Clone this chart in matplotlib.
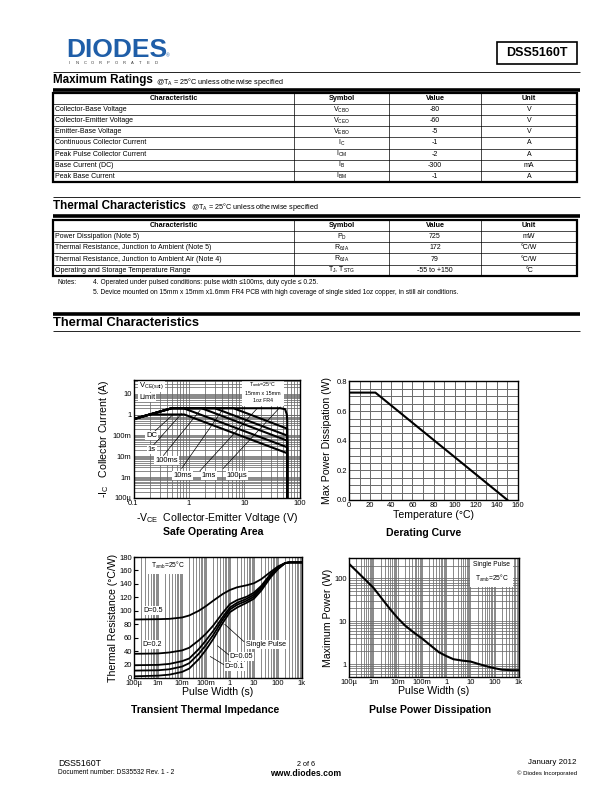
import numpy as np
import matplotlib
matplotlib.use('Agg')
import matplotlib.pyplot as plt
from matplotlib.patches import Rectangle
from matplotlib.ticker import LogLocator, NullFormatter, MultipleLocator

plt.rcParams['font.family'] = ['Liberation Sans', 'DejaVu Sans']
plt.rcParams['mathtext.default'] = 'regular'

W, H = 612, 792

# ---------------- data ----------------
part_number = "DSS5160T"
table_header = ["Characteristic", "Symbol", "Value", "Unit"]

max_char = ["Collector-Base Voltage", "Collector-Emitter Voltage", "Emitter-Base Voltage",
            "Continuous Collector Current", "Peak Pulse Collector Current",
            "Base Current (DC)", "Peak Base Current"]
max_sym = ["V$_{CBO}$", "V$_{CEO}$", "V$_{EBO}$", "I$_{C}$", "I$_{CM}$", "I$_{B}$", "I$_{BM}$"]
max_val = ["-80", "-60", "-5", "-1", "-2", "-300", "-1"]
max_unit = ["V", "V", "V", "A", "A", "mA", "A"]

th_char = ["Power Dissipation (Note 5)", "Thermal Resistance, Junction to Ambient (Note 5)",
           "Thermal Resistance, Junction to Ambient Air (Note 4)",
           "Operating and Storage Temperature Range"]
th_sym = ["P$_{D}$", "R$_{\\theta JA}$", "R$_{\\theta JA}$", "T$_{J}$, T$_{STG}$"]
th_val = ["725", "172", "79", "-55 to +150"]
th_unit = ["mW", "°C/W", "°C/W", "°C"]

notes = ["4. Operated under pulsed conditions: pulse width \u2264100ms, duty cycle \u2264 0.25.",
         "5. Device mounted on 15mm x 15mm x1.6mm FR4 PCB with high coverage of single sided 1oz copper, in still air conditions."]

# Safe operating area curves (-VCE in V, -IC in A)
soa_dc_v = [0.1, 0.195, 0.83, 60, 60]
soa_dc_i = [0.6, 1.0, 1.0, 0.014, 1e-4]
soa_1s_v = [0.1, 0.49, 0.8, 60, 60]
soa_1s_i = [0.6, 2.0, 2.0, 0.027, 1e-4]
soa_100ms_v = [0.1, 0.49, 1.7, 60, 60]
soa_100ms_i = [0.6, 2.0, 2.0, 0.056, 1e-4]
soa_10ms_v = [0.1, 0.49, 2.95, 60, 60]
soa_10ms_i = [0.6, 2.0, 2.0, 0.098, 1e-4]
soa_1ms_v = [0.1, 0.49, 6.4, 60, 60]
soa_1ms_i = [0.6, 2.0, 2.0, 0.21, 1e-4]
soa_100us_v = [0.1, 0.49, 45, 55, 59, 60, 60]
soa_100us_i = [0.6, 2.0, 2.0, 1.8, 1.0, 0.5, 1e-4]
soa_yticks = [1e-4, 1e-3, 1e-2, 1e-1, 1, 10]
soa_ylabels = ["100\u00b5", "1m", "10m", "100m", "1", "10"]
soa_xticks = [0.1, 1, 10, 100]
soa_xlabels = ["0.1", "1", "10", "100"]

# Derating curve
der_temp = [0, 25, 150]
der_power = [0.725, 0.725, 0.0]

# Transient thermal impedance (deg C/W vs pulse width s)
tt_t = [1e-4, 1e-3, 3e-3, 1e-2, 2e-2, 5e-2, 0.1, 0.2, 0.5, 1, 2, 5, 10, 20, 50, 100, 200, 300, 1000]
tt_d05 = [87, 87.5, 88, 90, 93, 100, 107, 115, 125, 131, 135, 138, 141, 147, 158, 166, 171, 172, 172]
tt_d02 = [36, 36.5, 38, 41, 45, 56, 66, 78, 97, 110, 116, 121, 127, 137, 155, 165, 171, 172, 172]
tt_d01 = [19, 19.5, 21, 25, 29, 43, 56, 70, 91, 105, 112, 118, 124, 135, 153, 164, 171, 172, 172]
tt_d005 = [11, 11.5, 13, 17, 22, 36, 49, 64, 87, 102, 109, 115, 121, 133, 152, 163, 171, 172, 172]
tt_single = [2.5, 3.5, 5, 9, 14, 28, 42, 58, 82, 98, 105, 112, 118, 130, 150, 162, 171, 172, 172]
t_ticks = [1e-4, 1e-3, 1e-2, 1e-1, 1, 10, 100, 1000]
t_labels = ["100\u00b5", "1m", "10m", "100m", "1", "10", "100", "1k"]

# Pulse power dissipation (W vs pulse width s)
pp_t = [1e-4, 2e-4, 5e-4, 1e-3, 2e-3, 5e-3, 1e-2, 2e-2, 5e-2, 0.1, 0.2, 0.5, 1, 2, 5, 10,
        20, 50, 100, 200, 500, 1000]
pp_p = [220, 150, 90, 61, 37, 19, 12, 8.0, 5.3, 4.0, 2.9, 1.9, 1.55, 1.3, 1.2, 1.15,
        1.02, 0.88, 0.8, 0.74, 0.72, 0.72]

# ---------------- figure ----------------
fig = plt.figure(figsize=(W / 100, H / 100), dpi=100)
pg = fig.add_axes([0, 0, 1, 1])
pg.set_xlim(0, W)
pg.set_ylim(H, 0)
pg.axis('off')


def rect(x0, y0, x1, y1):
    return [x0 / W, 1 - y1 / H, (x1 - x0) / W, (y1 - y0) / H]


def hline(y, x0=53, x1=580, lw=0.6):
    pg.plot([x0, x1], [y, y], color='black', lw=lw, solid_capstyle='butt')


# header logo
pg.text(66, 57, "DIODES", fontsize=19, fontweight='bold', color='#1f5ea8',
        ha='left', va='baseline')
pg.plot([66, 170], [47.5, 47.5], color='white', lw=1.1)
for k, ch in enumerate("INCORPORATED"):
    pg.text(69 + k * 7.9, 62.5, ch, fontsize=3.0, color='#333333', ha='center', va='center')
pg.text(166, 56, "\u00ae", fontsize=3.5, color='#1f5ea8', ha='left', va='center')
pg.add_patch(Rectangle((497, 42), 80, 22, fill=False, lw=1.2, ec='black'))
pg.text(537, 53, part_number, fontsize=9, fontweight='bold', ha='center', va='center')

# section: maximum ratings
hline(72, lw=0.6)
pg.text(53, 80.5, "Maximum Ratings", fontsize=8.4, fontweight='bold', ha='left', va='center')
pg.text(156, 81.5, "@T$_{A}$ = 25°C unless otherwise specified", fontsize=5.2, ha='left', va='center')
hline(89.5, lw=2.6)

cols = [53, 294, 389, 481, 577]


def draw_table(top, rh, chars, syms, vals, units):
    n = len(chars) + 1
    bottom = top + n * rh
    for i in range(1, n):
        pg.plot([cols[0], cols[-1]], [top + i * rh] * 2, color='black', lw=0.5)
    for x in cols[1:-1]:
        pg.plot([x, x], [top, bottom], color='black', lw=0.5)
    pg.add_patch(Rectangle((cols[0], top), cols[-1] - cols[0], n * rh, fill=False, lw=1.6, ec='black'))
    for j, h in enumerate(table_header):
        pg.text((cols[j] + cols[j + 1]) / 2, top + rh / 2, h, fontsize=5.2, fontweight='bold',
                ha='center', va='center')
    for i in range(len(chars)):
        yc = top + (i + 1.5) * rh
        pg.text(cols[0] + 2, yc, chars[i], fontsize=5.0, ha='left', va='center')
        pg.text((cols[1] + cols[2]) / 2, yc, syms[i], fontsize=5.0, ha='center', va='center')
        pg.text((cols[2] + cols[3]) / 2, yc, vals[i], fontsize=5.0, ha='center', va='center')
        pg.text((cols[3] + cols[4]) / 2, yc, units[i], fontsize=5.0, ha='center', va='center')


draw_table(93, 11.1, max_char, max_sym, max_val, max_unit)

# section: thermal characteristics (table)
hline(197, lw=0.6)
pg.text(53, 206, "Thermal Characteristics", fontsize=8.4, fontweight='bold', ha='left', va='center')
pg.text(191, 207, "@T$_{A}$ = 25°C unless otherwise specified", fontsize=5.2, ha='left', va='center')
hline(215.5, lw=2.6)
draw_table(219.5, 11.3, th_char, th_sym, th_val, th_unit)

pg.text(57, 283, "Notes:", fontsize=4.8, ha='left', va='center')
pg.text(93, 283, notes[0], fontsize=4.8, ha='left', va='center')
pg.text(93, 292, notes[1], fontsize=4.8, ha='left', va='center')

hline(313.5, lw=2.6)
pg.text(53, 322.5, "Thermal Characteristics", fontsize=9.3, fontweight='bold', ha='left', va='center')
hline(331, lw=0.6)

# footer
pg.text(58, 763, part_number, fontsize=6.3, ha='left', va='center')
pg.text(58, 773, "Document number: DS35532 Rev. 1 - 2", fontsize=4.8, ha='left', va='center')
pg.text(306, 764, "2 of 6", fontsize=5.2, ha='center', va='center')
pg.text(306, 773, "www.diodes.com", fontsize=6.2, fontweight='bold', ha='center', va='center')
pg.text(577, 763, "January 2012", fontsize=5.8, ha='right', va='center')
pg.text(577, 773, "\u00a9 Diodes Incorporated", fontsize=4.3, ha='right', va='center')

# chart titles
pg.text(213, 532, "Safe Operating Area", fontsize=7.6, fontweight='bold', ha='center', va='center')
pg.text(424, 533, "Derating Curve", fontsize=7.6, fontweight='bold', ha='center', va='center')
pg.text(205, 710, "Transient Thermal Impedance", fontsize=7.6, fontweight='bold', ha='center', va='center')
pg.text(430, 710, "Pulse Power Dissipation", fontsize=7.6, fontweight='bold', ha='center', va='center')

GRID = '#6a6a6a'
TICKFS = 5.5
LABFS = 7.6


def style(ax):
    for s in ax.spines.values():
        s.set_linewidth(1.0)
        s.set_zorder(6)
    ax.tick_params(which='both', length=0, pad=1.5, labelsize=TICKFS)


# ---- Safe operating area ----
ax1 = fig.add_axes(rect(133.5, 380, 299.5, 498))
ax1.set_xscale('log')
ax1.set_yscale('log')
ax1.set_xlim(0.1, 100)
ax1.set_ylim(1e-4, 45)
ax1.set_xticks(soa_xticks, soa_xlabels)
ax1.set_yticks(soa_yticks, soa_ylabels)
ax1.xaxis.set_minor_locator(LogLocator(base=10, subs=np.arange(2, 10), numticks=20))
ax1.yaxis.set_minor_locator(LogLocator(base=10, subs=np.arange(2, 10), numticks=20))
ax1.xaxis.set_minor_formatter(NullFormatter())
ax1.yaxis.set_minor_formatter(NullFormatter())
ax1.grid(which='both', color=GRID, lw=0.55)
style(ax1)
for v, i in [(soa_dc_v, soa_dc_i), (soa_1s_v, soa_1s_i), (soa_100ms_v, soa_100ms_i),
             (soa_10ms_v, soa_10ms_i), (soa_1ms_v, soa_1ms_i), (soa_100us_v, soa_100us_i)]:
    ax1.plot(v, i, color='black', lw=1.5, solid_joinstyle='round', zorder=4)
box = dict(fc='white', ec='none', pad=0.6)
soa_notes = [("DC", (0.075, 0.53), (0.10, 0.53), (0.52, 1.0)),
             ("1s", (0.085, 0.41), (0.115, 0.44), (0.74, 1.1)),
             ("100ms", (0.13, 0.32), (0.18, 0.36), (1.6, 1.6)),
             ("10ms", (0.24, 0.19), (0.29, 0.25), (4.2, 1.9)),
             ("1ms", (0.41, 0.19), (0.40, 0.23), (17, 1.9)),
             ("100\u00b5s", (0.56, 0.19), (0.54, 0.25), (45, 2.3))]
for lab, tpos, lpos, tgt in soa_notes:
    ax1.annotate("", xy=tgt, xycoords='data', xytext=lpos, textcoords='axes fraction',
                 arrowprops=dict(arrowstyle='-', lw=0.5, color='black', shrinkA=0, shrinkB=0), zorder=3)
    ax1.text(tpos[0], tpos[1], lab, transform=ax1.transAxes, fontsize=5.5, ha='left', va='center',
             bbox=box, zorder=5)
ax1.text(0.035, 0.955, "V$_{CE(sat)}$", transform=ax1.transAxes, fontsize=5.5, ha='left', va='center',
         bbox=box, zorder=5)
ax1.text(0.035, 0.85, "Limit", transform=ax1.transAxes, fontsize=5.5, ha='left', va='center',
         bbox=box, zorder=5)
ax1.text(0.78, 0.90, "T$_{amb}$=25°C\n15mm x 15mm\n1oz FR4", transform=ax1.transAxes, fontsize=3.8,
         ha='center', va='center', linespacing=1.5,
         bbox=dict(fc='white', ec='none', pad=2.2), zorder=5)
ax1.set_xlabel("-V$_{CE}$  Collector-Emitter Voltage (V)", fontsize=LABFS, labelpad=3)
ax1.set_ylabel("-I$_{C}$   Collector Current (A)", fontsize=LABFS, labelpad=1)

# ---- Derating curve ----
ax2 = fig.add_axes(rect(349, 381.5, 518, 500))
ax2.set_xlim(0, 160)
ax2.set_ylim(0, 0.8)
ax2.set_xticks(np.arange(0, 161, 20))
ax2.set_yticks([0.0, 0.2, 0.4, 0.6, 0.8], ["0.0", "0.2", "0.4", "0.6", "0.8"])
ax2.xaxis.set_minor_locator(MultipleLocator(10))
ax2.yaxis.set_minor_locator(MultipleLocator(0.05))
ax2.grid(which='both', color=GRID, lw=0.7)
style(ax2)
ax2.plot(der_temp, der_power, color='black', lw=1.5, zorder=4)
ax2.set_xlabel("Temperature (°C)", fontsize=LABFS, labelpad=1)
ax2.set_ylabel("Max Power Dissipation (W)", fontsize=LABFS, labelpad=3)

# ---- Transient thermal impedance ----
ax3 = fig.add_axes(rect(134, 557, 302, 678))
ax3.set_xscale('log')
ax3.set_xlim(1e-4, 1e3)
ax3.set_ylim(0, 180)
ax3.set_xticks(t_ticks, t_labels)
ax3.set_yticks(np.arange(0, 181, 20))
ax3.xaxis.set_minor_locator(LogLocator(base=10, subs=np.arange(2, 10), numticks=20))
ax3.xaxis.set_minor_formatter(NullFormatter())
ax3.grid(which='both', axis='x', color=GRID, lw=0.55)
style(ax3)
ax3.tick_params(axis='y', which='major', length=3, direction='in')
for y in [tt_d05, tt_d02, tt_d01, tt_d005, tt_single]:
    ax3.plot(tt_t, y, color='black', lw=1.3, zorder=4)
ax3.text(0.1, 0.93, "T$_{amb}$=25°C", transform=ax3.transAxes, fontsize=4.8, ha='left', va='center',
         bbox=dict(fc='white', ec='none', pad=2.2), zorder=5)
ax3.text(0.055, 0.555, "D=0.5", transform=ax3.transAxes, fontsize=5.2, ha='left', va='center',
         bbox=box, zorder=5)
ax3.text(0.05, 0.275, "D=0.2", transform=ax3.transAxes, fontsize=5.2, ha='left', va='center',
         bbox=box, zorder=5)
tt_notes = [("Single Pulse", (0.665, 0.275), (0.655, 0.30), (0.6, 80)),
            ("D=0.05", (0.57, 0.18), (0.565, 0.19), (0.3, 48)),
            ("D=0.1", (0.54, 0.095), (0.535, 0.11), (0.15, 32))]
for lab, tpos, lpos, tgt in tt_notes:
    ax3.annotate("", xy=tgt, xycoords='data', xytext=lpos, textcoords='axes fraction',
                 arrowprops=dict(arrowstyle='-', lw=0.5, color='black', shrinkA=0, shrinkB=0), zorder=3)
    ax3.text(tpos[0], tpos[1], lab, transform=ax3.transAxes, fontsize=5.2, ha='left', va='center',
             bbox=box, zorder=5)
ax3.set_xlabel("Pulse Width (s)", fontsize=LABFS, labelpad=0)
ax3.set_ylabel("Thermal Resistance (°C/W)", fontsize=LABFS, labelpad=1)

# ---- Pulse power dissipation ----
ax4 = fig.add_axes(rect(349, 558, 519, 677))
ax4.set_xscale('log')
ax4.set_yscale('log')
ax4.set_xlim(1e-4, 1e3)
ax4.set_ylim(0.5, 300)
ax4.set_xticks(t_ticks, t_labels)
ax4.set_yticks([1, 10, 100], ["1", "10", "100"])
ax4.xaxis.set_minor_locator(LogLocator(base=10, subs=np.arange(2, 10), numticks=20))
ax4.yaxis.set_minor_locator(LogLocator(base=10, subs=np.arange(2, 10), numticks=20))
ax4.xaxis.set_minor_formatter(NullFormatter())
ax4.yaxis.set_minor_formatter(NullFormatter())
ax4.grid(which='both', color=GRID, lw=0.55)
style(ax4)
ax4.plot(pp_t, pp_p, color='black', lw=1.5, zorder=4)
ax4.text(0.84, 0.88, "Single Pulse\nT$_{amb}$=25°C", transform=ax4.transAxes, fontsize=4.8,
         ha='center', va='center', linespacing=1.6,
         bbox=dict(fc='white', ec='none', pad=2.2), zorder=5)
ax4.set_xlabel("Pulse Width (s)", fontsize=LABFS, labelpad=0)
ax4.set_ylabel("Maximum Power (W)", fontsize=LABFS, labelpad=1)

fig.savefig("out.png", dpi=100)
